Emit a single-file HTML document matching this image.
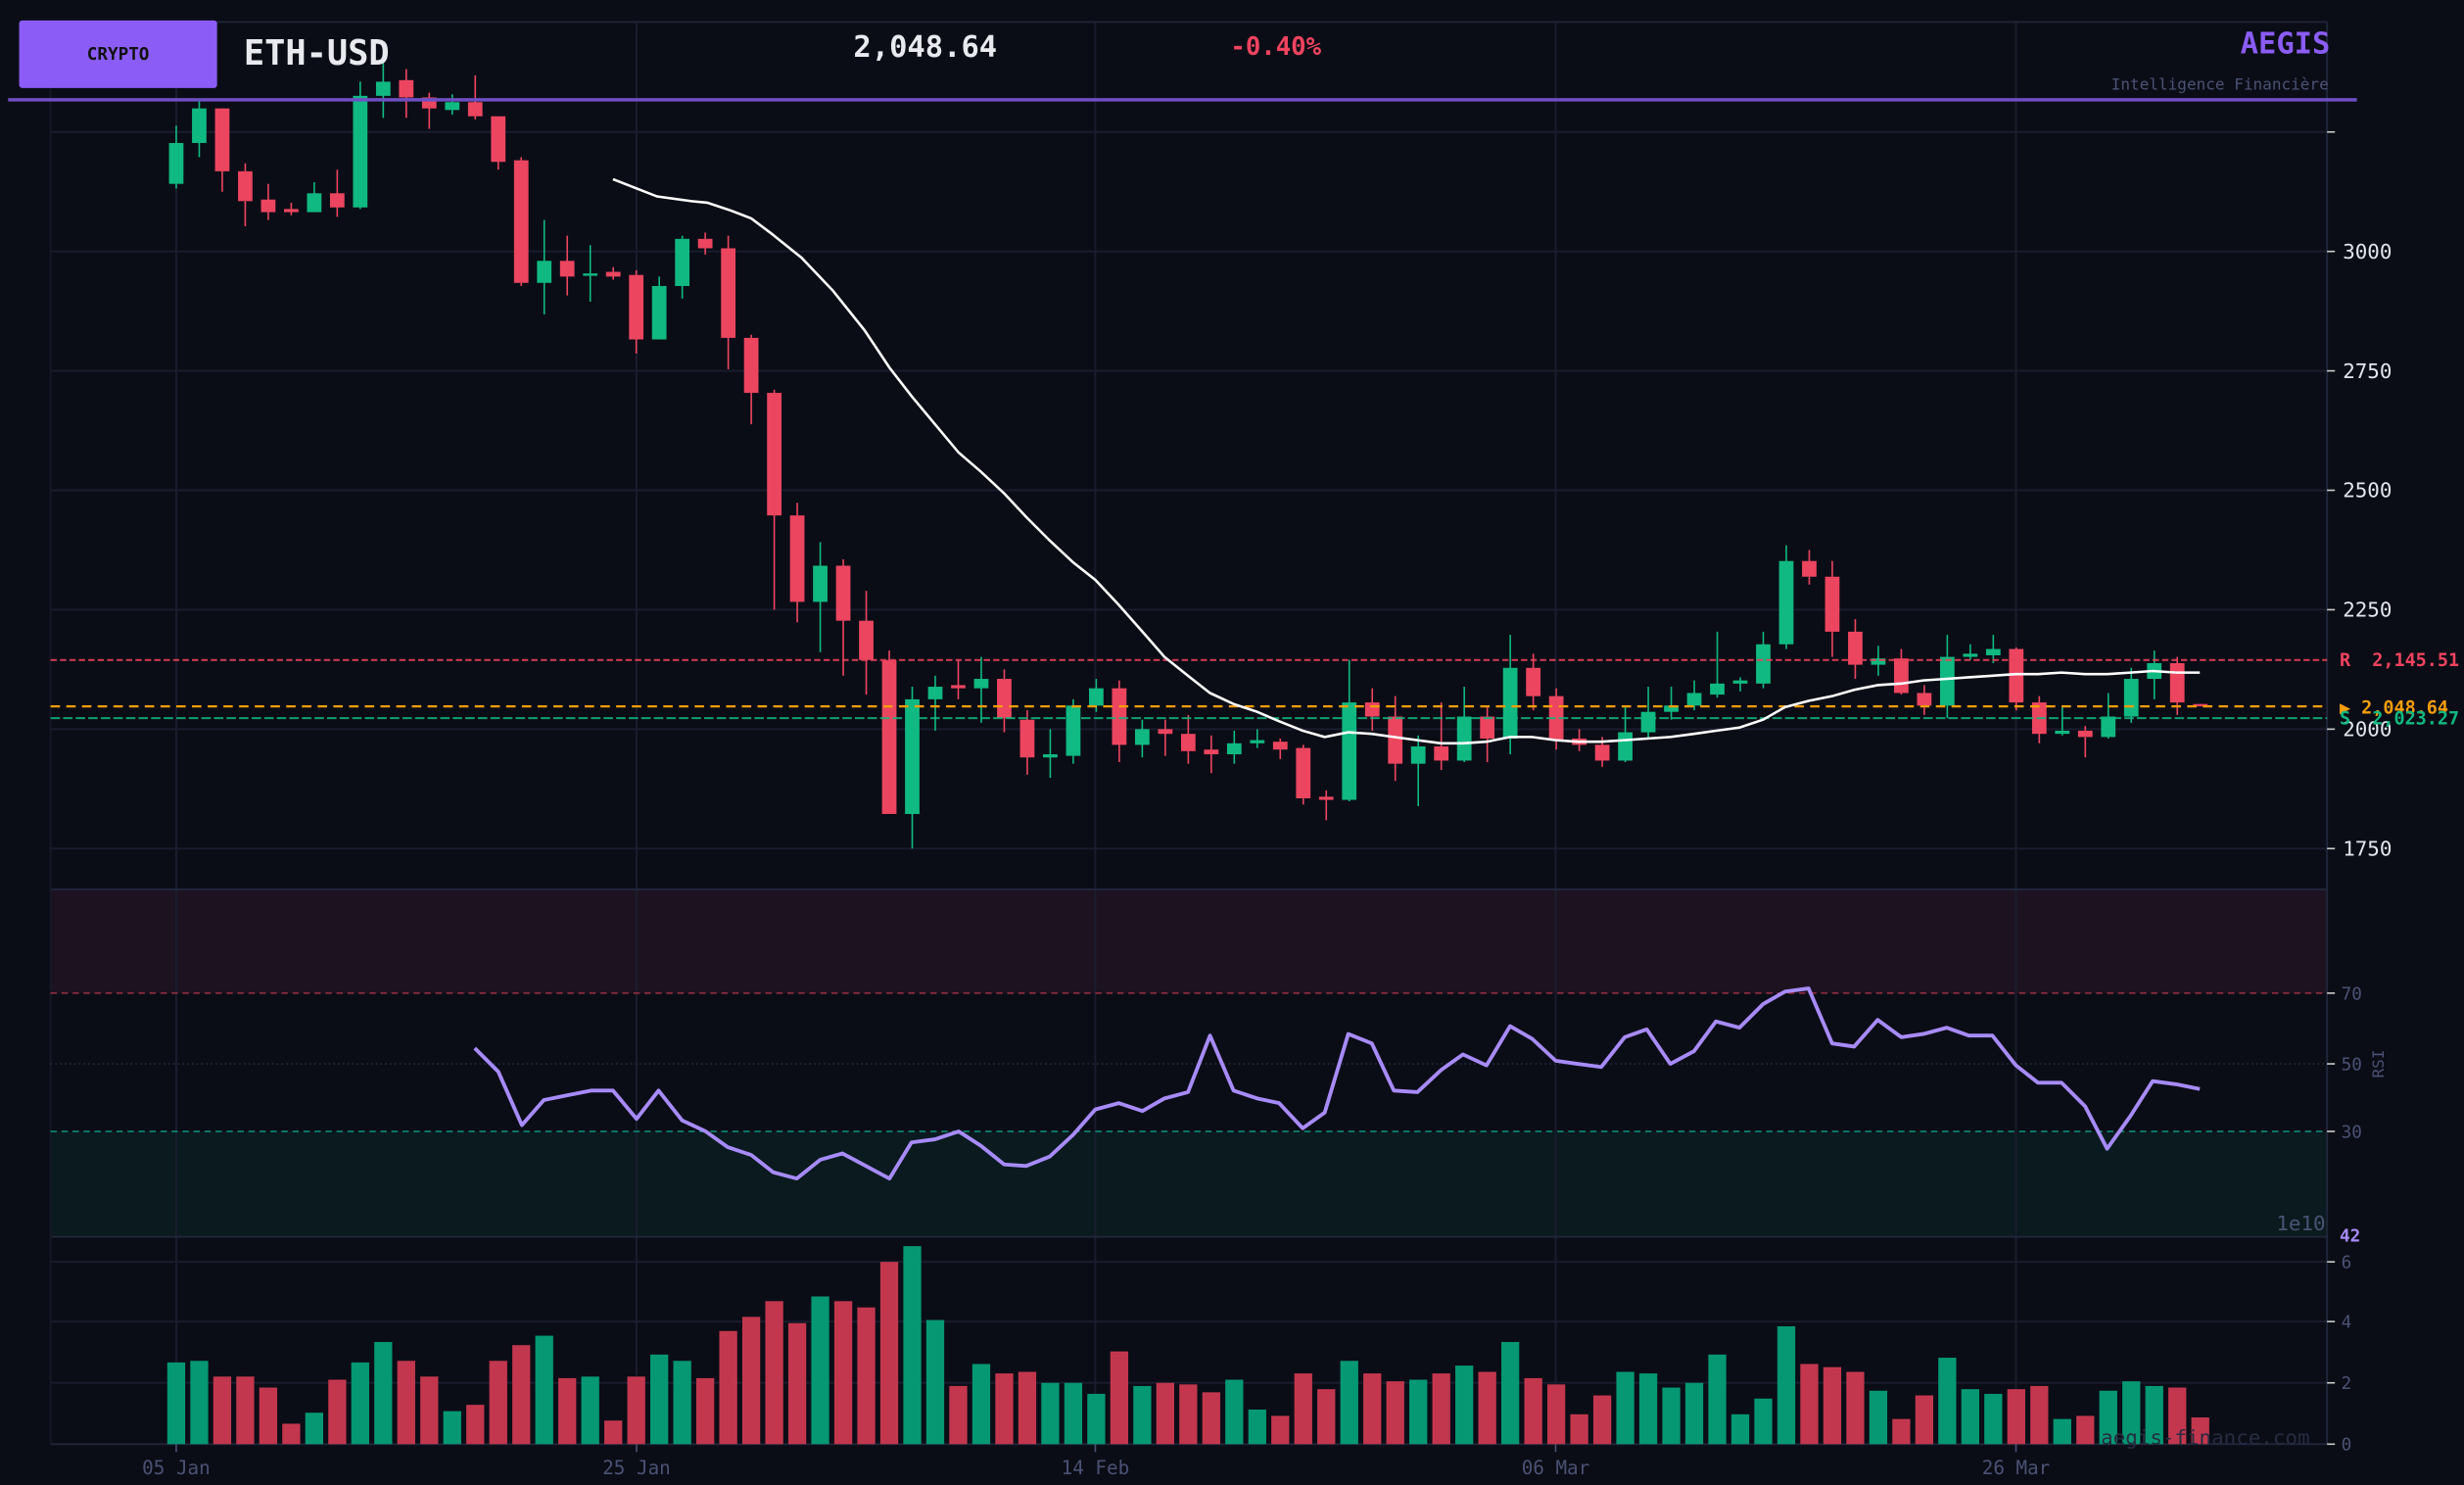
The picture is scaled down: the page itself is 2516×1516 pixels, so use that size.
<!DOCTYPE html>
<html><head><meta charset="utf-8">
<style>
html,body{margin:0;padding:0;background:#0b0d16;}
svg{display:block;}
text{font-family:"DejaVu Sans Mono","Liberation Mono",monospace;white-space:pre;}
</style></head>
<body>
<svg id="s" width="2516" height="1516" viewBox="0 0 1568 945" xmlns="http://www.w3.org/2000/svg" xml:space="preserve">
<rect x="0" y="0" width="1568" height="945" fill="#0b0d16"/>
<rect x="32" y="566" width="1449" height="66" fill="#1d1320"/>
<rect x="32" y="720" width="1449" height="67" fill="#0a1a1e"/>
<g id="grid" stroke="#1a1d2e" stroke-width="1.2"></g>
<g id="ax"></g>
<g id="vol"></g>
<g id="cdl"></g>
<g id="lines"></g>
<rect x="12" y="13" width="126" height="43" rx="2" fill="#8b5cf6"/>
<text x="75" y="38" text-anchor="middle" font-size="11" font-weight="bold" fill="#111">CRYPTO</text>
<text x="155" y="41" font-size="22" font-weight="bold" fill="#e8eaf0">ETH-USD</text>
<text x="543" y="36" font-size="19" font-weight="bold" fill="#e8eaf0">2,048.64</text>
<text x="783" y="35" font-size="16" font-weight="bold" fill="#f0435f">-0.40%</text>
<text x="1483" y="34" text-anchor="end" font-size="19" font-weight="bold" fill="#8b5cf6">AEGIS</text>
<text x="1482" y="57" text-anchor="end" font-size="10" fill="#4a5275">Intelligence Financière</text>
<line x1="5" y1="63.5" x2="1500" y2="63.5" stroke="#6d4fc4" stroke-width="2.2"/>
<text x="1489" y="424" font-size="11.5" font-weight="bold" fill="#f0435f">R  2,145.51</text>
<text x="1489" y="454" font-size="11.5" font-weight="bold" fill="#f59e0b">▶ 2,048.64</text>
<text x="1489" y="461" font-size="11.5" font-weight="bold" fill="#10b981">S  2,023.27</text>
<text x="1480" y="783" text-anchor="end" font-size="13" fill="#4a5275">1e10</text>
<text x="1489" y="790" font-size="11" font-weight="bold" fill="#a78bfa">42</text>
<text x="1517" y="677" font-size="10" fill="#4a5275" text-anchor="middle" transform="rotate(-90 1517 677)">RSI</text>
<text x="1470" y="919" text-anchor="end" font-size="13" fill="#262c40">aegis-finance.com</text>
</svg>
<script>
var NS="http://www.w3.org/2000/svg";
function el(p,t,a,txt){var e=document.createElementNS(NS,t);for(var k in a)e.setAttribute(k,a[k]);if(txt!==undefined)e.textContent=txt;document.getElementById(p).appendChild(e);return e;}
var xs=[112,405,697,990,1283];
xs.forEach(function(x){el('grid','line',{x1:x,y1:14,x2:x,y2:919});});
[84,160,236,312,388,464,540].forEach(function(y){el('grid','line',{x1:32,y1:y,x2:1481,y2:y});});
[803,841,880].forEach(function(y){el('grid','line',{x1:32,y1:y,x2:1481,y2:y});});
el('grid','line',{x1:32,y1:14,x2:1481,y2:14,stroke:'#1f2438'});
el('grid','line',{x1:32,y1:566,x2:1481,y2:566,stroke:'#20263a'});
el('grid','line',{x1:32,y1:787,x2:1481,y2:787,stroke:'#20263a'});
el('grid','line',{x1:32,y1:919,x2:1481,y2:919,stroke:'#20263a'});
el('grid','line',{x1:1481,y1:14,x2:1481,y2:919,stroke:'#20263a'});
el('grid','line',{x1:32,y1:14,x2:32,y2:919,stroke:'#151827'});
el('ax','line',{x1:32,y1:632,x2:1481,y2:632,stroke:'#9b2f45','stroke-dasharray':'4 3','stroke-width':1});
el('ax','line',{x1:32,y1:677,x2:1481,y2:677,stroke:'#262a3c','stroke-dasharray':'1 2','stroke-width':1});
el('ax','line',{x1:32,y1:720,x2:1481,y2:720,stroke:'#0f8a76','stroke-dasharray':'4 3','stroke-width':1});
[[84,''],[160,'3000'],[236,'2750'],[312,'2500'],[388,'2250'],[464,'2000'],[540,'1750']].forEach(function(t){
 el('ax','line',{x1:1481,y1:t[0],x2:1486,y2:t[0],stroke:'#ccc','stroke-width':1});
 if(t[1])el('ax','text',{x:1491,y:t[0]+4.5,'font-size':13,fill:'#e4e6ee'},t[1]);});
[[632,'70'],[677,'50'],[720,'30']].forEach(function(t){
 el('ax','line',{x1:1481,y1:t[0],x2:1486,y2:t[0],stroke:'#ccc','stroke-width':1});
 el('ax','text',{x:1490,y:t[0]+4,'font-size':11,fill:'#4a5275'},t[1]);});
[[803,'6'],[841,'4'],[880,'2'],[919,'0']].forEach(function(t){
 el('ax','line',{x1:1481,y1:t[0],x2:1486,y2:t[0],stroke:'#ccc','stroke-width':1});
 el('ax','text',{x:1490,y:t[0]+4,'font-size':11,fill:'#4a5275'},t[1]);});
['05 Jan','25 Jan','14 Feb','06 Mar','26 Mar'].forEach(function(s,i){
 el('ax','line',{x1:xs[i],y1:919,x2:xs[i],y2:924,stroke:'#4a5275','stroke-width':1});
 el('ax','text',{x:xs[i],y:938,'font-size':12,fill:'#4a5275','text-anchor':'middle'},s);});
var C=[[117,91,80,120,1],[91,69,64,100,1],[69,109,69,122,0],[109,128,104,144,0],[127,135,117,140,0],[133,135,129,137,0],[135,123,116,135,1],[123,132,108,138,0],[132,61,52,133,1],[61,52,40,75,1],[51,62,44,75,0],[62,69,59,82,0],[70,65,60,73,1],[65,74,48,76,0],[74,103,74,108,0],[102,180,100,182,0],[180,166,140,200,1],[166,176,150,188,0],[175,174,156,192,1],[173,176,170,178,0],[175,216,172,225,0],[216,182,176,216,1],[182,152,150,190,1],[152,158,148,162,0],[158,215,150,235,0],[215,250,213,270,0],[250,328,248,388,0],[328,383,320,396,0],[383,360,345,415,1],[360,395,356,430,0],[395,420,376,442,0],[420,518,414,518,0],[518,445,437,540,1],[445,437,430,465,1],[436,438,420,445,0],[438,432,418,460,1],[432,457,426,466,0],[458,482,452,493,0],[482,480,464,495,1],[481,449,445,486,1],[449,438,432,453,1],[438,474,433,485,0],[474,464,458,482,1],[464,467,458,481,0],[467,478,455,486,0],[477,480,468,492,0],[480,473,465,486,1],[473,471,464,476,1],[472,477,470,483,0],[476,508,474,512,0],[507,509,503,522,0],[509,447,420,510,1],[447,456,438,465,0],[456,486,443,497,0],[486,475,468,513,1],[475,484,447,490,0],[484,456,437,485,1],[456,470,449,485,0],[470,425,404,480,1],[425,443,416,452,0],[443,471,438,477,0],[470,474,464,478,0],[474,484,469,488,0],[484,466,450,485,1],[466,453,437,470,1],[453,449,437,458,1],[449,441,433,452,1],[442,435,402,444,1],[435,433,431,440,1],[435,410,402,438,1],[410,357,347,413,1],[357,367,350,372,0],[367,402,357,418,0],[402,423,394,432,0],[423,419,411,430,1],[419,441,413,442,0],[441,449,436,455,0],[449,418,404,457,1],[418,416,410,420,1],[417,413,404,422,1],[413,447,412,452,0],[447,467,443,473,0],[467,465,450,468,1],[465,469,462,482,0],[469,456,441,470,1],[456,432,425,460,1],[432,422,414,445,1],[422,447,418,455,0],[448,449,448,449,0]];
var V=[[867,1],[866,1],[876,0],[876,0],[883,0],[906,0],[899,1],[878,0],[867,1],[854,1],[866,0],[876,0],[898,1],[894,0],[866,0],[856,0],[850,1],[877,0],[876,1],[904,0],[876,0],[862,1],[866,1],[877,0],[847,0],[838,0],[828,0],[842,0],[825,1],[828,0],[832,0],[803,0],[793,1],[840,1],[882,0],[868,1],[874,0],[873,0],[880,1],[880,1],[887,1],[860,0],[882,1],[880,0],[881,0],[886,0],[878,1],[897,1],[901,0],[874,0],[884,0],[866,1],[874,0],[879,0],[878,1],[874,0],[869,1],[873,0],[854,1],[877,0],[881,0],[900,0],[888,0],[873,1],[874,1],[883,1],[880,1],[862,1],[900,1],[890,1],[844,1],[868,0],[870,0],[873,0],[885,1],[903,0],[888,0],[864,1],[884,1],[887,1],[884,0],[882,0],[903,1],[901,0],[885,1],[879,1],[882,1],[883,0],[902,0]];
C.forEach(function(c,i){var x=112+i*14.64;var col=c[4]?'#10b981':'#ec4560';
 el('cdl','line',{x1:x,y1:c[2],x2:x,y2:c[3],stroke:col,'stroke-width':1});
 var t=Math.min(c[0],c[1]),h=Math.max(Math.abs(c[0]-c[1]),1.5);
 el('cdl','rect',{x:x-4.6,y:t,width:9.2,height:h,fill:col});});
V.forEach(function(v,i){var x=112+i*14.64;
 el('vol','rect',{x:x-5.7,y:v[0],width:11.4,height:919-v[0],fill:v[1]?'#059873':'#c3374e'});});
el('lines','line',{x1:32,y1:420,x2:1481,y2:420,stroke:'#e8435c','stroke-dasharray':'4 2','stroke-width':1.3,opacity:0.85});
el('lines','line',{x1:32,y1:449.5,x2:1481,y2:449.5,stroke:'#f59e0b','stroke-dasharray':'6 4','stroke-width':1.4});
el('lines','line',{x1:32,y1:457,x2:1481,y2:457,stroke:'#10b981','stroke-dasharray':'6 2','stroke-width':1.3,opacity:0.85});
var MA="390,114 418,125 440,128 450,129 465,134 478,139 490,148 510,164 530,185 550,210 566,234 580,252 595,270 610,288 624,300 639,314 653,329 668,344 683,358 697,369 712,385 727,402 741,418 756,430 770,441 785,448 800,453 814,459 829,465 843,469 858,466 873,467 887,469 902,471 917,473 931,473 946,472 961,469 975,469 990,471 1004,472 1019,472 1034,471 1048,470 1063,469 1078,467 1092,465 1107,463 1122,458 1136,450 1151,446 1166,443 1180,439 1195,436 1210,435 1224,433 1239,432 1253,431 1268,430 1283,429 1297,429 1312,428 1327,429 1341,429 1356,428 1370,427 1385,428 1400,428";
el('lines','polyline',{points:MA,fill:'none',stroke:'#ffffff','stroke-width':1.6});
var RSI="302,667 317,682 332,716 346,700 361,697 376,694 390,694 405,712 419,694 434,713 449,720 463,730 478,735 492,746 507,750 522,738 536,734 551,742 566,750 580,727 595,725 610,720 624,729 639,741 653,742 668,736 683,722 697,706 712,702 727,707 741,699 756,695 770,659 785,694 800,699 814,702 829,718 843,708 858,658 873,664 887,694 902,695 917,681 931,671 946,678 961,653 975,661 990,675 1004,677 1019,679 1034,660 1048,655 1063,677 1078,669 1092,650 1107,654 1122,639 1136,631 1151,629 1166,664 1180,666 1195,649 1210,660 1224,658 1239,654 1253,659 1268,659 1283,678 1297,689 1312,689 1327,704 1341,731 1356,710 1370,688 1385,690 1400,693";
el('lines','polyline',{points:RSI,fill:'none',stroke:'#a78bfa','stroke-width':2.4,'stroke-linejoin':'round'});
</script>
</body></html>
